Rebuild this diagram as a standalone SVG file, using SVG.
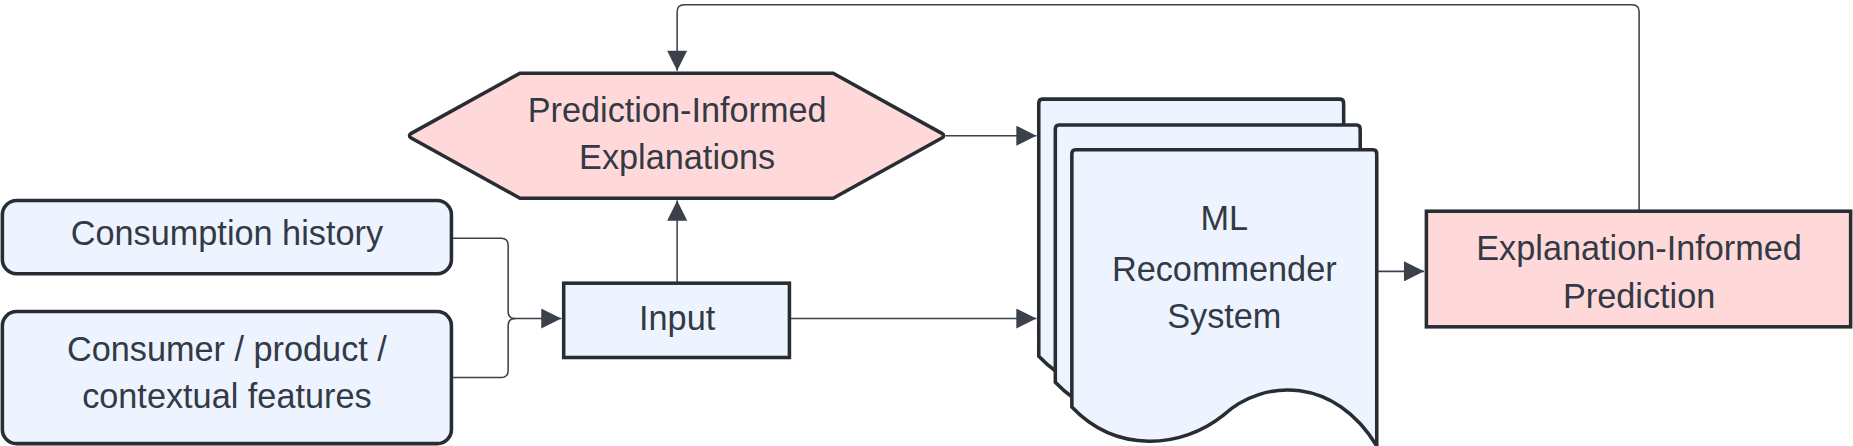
<svg xmlns="http://www.w3.org/2000/svg" width="1853" height="446" viewBox="0 0 1853 446">
<defs>
<style>
.n{fill:#edf4ff;stroke:#282c33;stroke-width:3}
.p{fill:#ffd9d9;stroke:#282c33;stroke-width:3}
.t{font-family:"Liberation Sans",Arial,sans-serif;font-size:29px;fill:#333a45;text-anchor:middle}
.c{fill:none;stroke:#3a414a;stroke-width:1.3}
</style>
<marker id="a" viewBox="0 0 10 10" refX="10" refY="5" markerWidth="25" markerHeight="17" markerUnits="userSpaceOnUse" orient="auto"><path d="M0,0L10,5L0,10z" fill="#3a414a"/></marker>
<path id="doc" d="M910,127 H1162 Q1165,127 1165,131 V378 C1130,320 1070,320 1035,352 C1000,380 945,385 907,345 V131 Q907,127 910,127z"/>
</defs>
<rect width="1853" height="446" fill="#fff"/>
<g transform="scale(1.18176,1.17989)">
<g id="connectors">
<path class="c" d="M382,202 H424 Q430,202 430,208 V264 Q430,270 436,270 H475" marker-end="url(#a)"/>
<path class="c" d="M382,320 H424 Q430,320 430,314 V276 Q430,270 436,270"/>
<path class="c" d="M573,240 V170" marker-end="url(#a)"/>
<path class="c" d="M668,270 H877" marker-end="url(#a)"/>
<path class="c" d="M800,115 H877" marker-end="url(#a)"/>
<path class="c" d="M1165,230 H1205" marker-end="url(#a)"/>
<path class="c" d="M1387,179 V10 Q1387,4 1381,4 H579 Q573,4 573,10 V60" marker-end="url(#a)"/>
</g>
<g id="consumption"><rect class="n" x="2" y="170" width="380" height="62" rx="12"/><text class="t" x="192" y="208">Consumption history</text></g>
<g id="features"><rect class="n" x="2" y="264" width="380" height="112" rx="12"/><text class="t" x="192" y="306">Consumer / product /</text><text class="t" x="192" y="346">contextual features</text></g>
<g id="input"><rect class="n" x="477" y="240" width="191" height="63"/><text class="t" x="573" y="280">Input</text></g>
<g id="pie"><path class="p" d="M348,113 L440,62 H705 L797,113 Q800,115 797,117 L705,168 H440 L348,117 Q345,115 348,113z"/><text class="t" x="573" y="103">Prediction-Informed</text><text class="t" x="573" y="143">Explanations</text></g>
<g id="ml">
<use href="#doc" class="n" transform="translate(-28,-43)"/>
<use href="#doc" class="n" transform="translate(-14,-21)"/>
<use href="#doc" class="n"/>
<text class="t" x="1036" y="195">ML</text><text class="t" x="1036" y="238">Recommender</text><text class="t" x="1036" y="278">System</text>
</g>
<g id="eip"><rect class="p" x="1207" y="179" width="359" height="98"/><text class="t" x="1387" y="220">Explanation-Informed</text><text class="t" x="1387" y="261">Prediction</text></g>
</g>
</svg>
